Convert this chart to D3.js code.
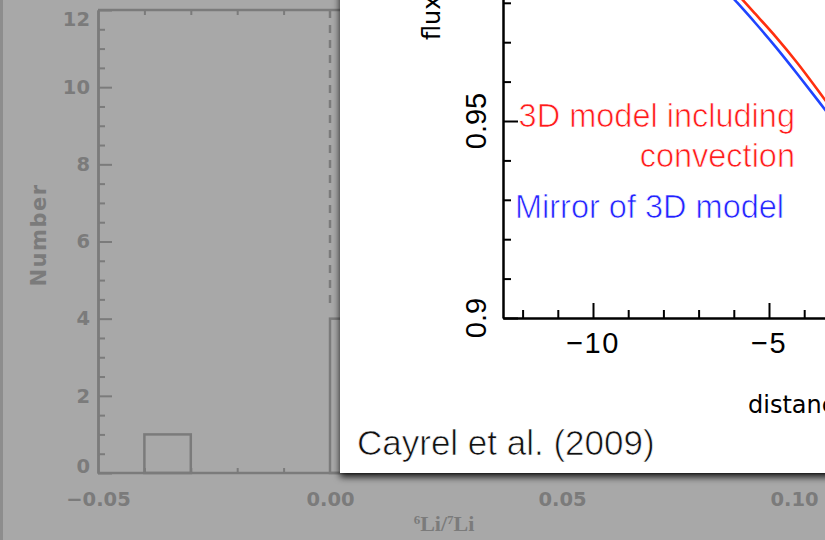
<!DOCTYPE html>
<html>
<head>
<meta charset="utf-8">
<script src="https://cdn.jsdelivr.net/npm/d3@7"></script>
<style>
  html, body { margin: 0; padding: 0; background: #a8a8a8; overflow: hidden; }
  svg { display: block; }
</style>
</head>
<body>
<svg id="chart" width="825" height="540"></svg>
<script>
// ---- Histogram of the 6Li/7Li ratio (dimmed background figure) ----
const binStarts = [-0.04, 0.00];
const binCounts = [1, 4];
const binWidth = 0.01;
const histXTicks = [-0.05, 0.00, 0.05, 0.10];
const histXLabels = ["\u22120.05", "0.00", "0.05", "0.10"];
const histYTicks = [0, 2, 4, 6, 8, 10, 12];

// ---- Line profile inset: flux versus distance ----
const distance   = [-6.6, -6.0, -5.4, -4.8, -4.2, -3.6, -3.0];
const flux3D     = [0.9889, 0.9832, 0.9773, 0.9713, 0.9648, 0.9577, 0.9503];
const fluxMirror = [0.9869, 0.9810, 0.9750, 0.9687, 0.9620, 0.9551, 0.9481];
const profXTicks = [-10, -5];
const profXLabels = ["\u221210", "\u22125"];
const profYTicks = [0.9, 0.95, 1.0];
const profYLabelTicks = [0.9, 0.95];
const profYLabels = ["0.9", "0.95"];

const W = 825, H = 540;
const svg = d3.select("#chart");
const defs = svg.append("defs");

svg.append("rect").attr("width", W).attr("height", H).attr("fill", "#a8a8a8");
svg.append("rect").attr("x", 0).attr("width", 3).attr("height", H).attr("fill", "#8d8d8d");

// ================= histogram =================
const gray = "#7b7b7b";
const hx = d3.scaleLinear().domain([-0.05, 0.10]).range([98, 794]);
const hy = d3.scaleLinear().domain([0, 12]).range([473, 10]);
const hg = svg.append("g");

// bars
hg.selectAll("rect.bar").data(binStarts).join("rect")
  .attr("class", "bar")
  .attr("x", d => hx(d))
  .attr("y", (d, i) => hy(binCounts[i]))
  .attr("width", d => hx(d + binWidth) - hx(d))
  .attr("height", (d, i) => hy(0) - hy(binCounts[i]))
  .attr("fill", "none").attr("stroke", gray).attr("stroke-width", 2.5);

// dashed reference line at zero
hg.append("line")
  .attr("x1", hx(0)).attr("x2", hx(0))
  .attr("y1", hy(12)).attr("y2", hy(binCounts[1]) - 12)
  .attr("stroke", gray).attr("stroke-width", 2.5).attr("stroke-dasharray", "8,7");

const histFont = g => g.selectAll("text")
  .attr("font-family", "DejaVu Sans").attr("font-weight", "bold")
  .attr("font-size", 19.5).attr("fill", gray);
const styleAxis = (g, color, w) => {
  g.select(".domain").attr("stroke", color).attr("stroke-width", w);
  g.selectAll(".tick line").attr("stroke", color).attr("stroke-width", 2);
};

const minorX = d3.range(-5, 16).map(i => i / 100).filter(v => Math.abs(v * 20 - Math.round(v * 20)) > 1e-6);
const minorY = d3.range(0, 25).map(i => i / 2).filter(v => v % 2 !== 0);

// left axis with inward ticks
const hyAxis = hg.append("g").attr("transform", `translate(${hx(-0.05)},0)`)
  .call(d3.axisLeft(hy).tickValues(histYTicks).tickSize(-14).tickSizeOuter(0).tickPadding(8));
styleAxis(hyAxis, gray, 2.5);
histFont(hyAxis);
hyAxis.selectAll(".tick text")
  .attr("y", v => Math.min(Math.max(hy(v), hy(12) + 9), hy(0) - 7) - hy(v));
hg.append("g").attr("transform", `translate(${hx(-0.05)},0)`)
  .call(d3.axisLeft(hy).tickValues(minorY).tickSize(-7).tickSizeOuter(0).tickFormat(""))
  .call(g => styleAxis(g, gray, 2.5));

// bottom axis
const hxAxis = hg.append("g").attr("transform", `translate(0,${hy(0)})`)
  .call(d3.axisBottom(hx).tickValues(histXTicks).tickSize(0).tickSizeOuter(0)
        .tickFormat((d, i) => histXLabels[i]));
hxAxis.select(".domain").remove();
histFont(hxAxis);
hxAxis.selectAll(".tick text").attr("y", 33).attr("dy", 0);
hg.append("line").attr("x1", hx(-0.05)).attr("x2", W).attr("y1", hy(0)).attr("y2", hy(0))
  .attr("stroke", gray).attr("stroke-width", 2.5);
hg.append("g").attr("transform", `translate(0,${hy(0)})`)
  .call(d3.axisBottom(hx).tickValues(minorX).tickSize(-5).tickFormat(""))
  .call(g => { g.select(".domain").remove(); styleAxis(g, gray, 2.5); });

// top frame
hg.append("line").attr("x1", hx(-0.05)).attr("x2", W).attr("y1", hy(12)).attr("y2", hy(12))
  .attr("stroke", gray).attr("stroke-width", 2.5);
hg.append("g").attr("transform", `translate(0,${hy(12)})`)
  .call(d3.axisTop(hx).tickValues(minorX).tickSize(-5).tickFormat(""))
  .call(g => { g.select(".domain").remove(); styleAxis(g, gray, 2.5); });

// axis titles
hg.append("text")
  .attr("transform", "translate(46,235) rotate(-90)")
  .attr("text-anchor", "middle")
  .attr("font-family", "DejaVu Sans").attr("font-weight", "bold")
  .attr("font-size", 21).attr("letter-spacing", 1.5).attr("fill", gray)
  .text("Number");

const xt = hg.append("text")
  .attr("x", 444).attr("y", 531).attr("text-anchor", "middle")
  .attr("font-family", "Liberation Serif").attr("font-weight", "bold")
  .attr("font-size", 22).attr("fill", gray);
xt.append("tspan").attr("font-size", 13).attr("dy", -7).text("6");
xt.append("tspan").attr("dy", 7).text("Li/");
xt.append("tspan").attr("font-size", 13).attr("dy", -7).text("7");
xt.append("tspan").attr("dy", 7).text("Li");

// ================= inset panel =================
const sh = defs.append("filter").attr("id", "shadow")
  .attr("x", "-10%").attr("y", "-10%").attr("width", "120%").attr("height", "125%");
sh.append("feDropShadow").attr("dx", 0).attr("dy", 4).attr("stdDeviation", 3.5)
  .attr("flood-color", "#000").attr("flood-opacity", 0.85);

svg.append("rect").attr("x", 340).attr("y", -40).attr("width", 540).attr("height", 513)
  .attr("fill", "#fff").attr("filter", "url(#shadow)");

const pg = svg.append("g");
// anchor the scales on the labelled ticks, then widen them to the full axis extent
const px0 = d3.scaleLinear().domain([-10, -5]).range([593, 769]);
const px = d3.scaleLinear().domain([px0.invert(503), px0.invert(900)]).range([503, 900]);
const py0 = d3.scaleLinear().domain([0.9, 0.95]).range([318, 121]);
const py = d3.scaleLinear().domain([0.9, 1.0]).range([318, py0(1.0)]);

const profMinorX = d3.range(-12, 1).filter(v => v % 5 !== 0);
const profMinorY = d3.range(91, 100).map(v => v / 100).filter(v => Math.abs(v - 0.95) > 1e-6);

// curves
const series = [
  { values: fluxMirror, color: "#1f44ff" },
  { values: flux3D, color: "#ff2f0f" }
];
const line = d3.line().x(d => px(d[0])).y(d => py(d[1])).curve(d3.curveMonotoneX);
pg.selectAll("path.profile").data(series).join("path")
  .attr("class", "profile")
  .attr("d", s => line(distance.map((d, i) => [d, s.values[i]])))
  .attr("fill", "none").attr("stroke", s => s.color).attr("stroke-width", 2.6);

// y axis
const pyAxis = pg.append("g").attr("transform", `translate(${px.range()[0]},0)`)
  .call(d3.axisLeft(py).tickValues(profYTicks).tickSize(-15).tickSizeOuter(0).tickFormat(""));
styleAxis(pyAxis, "#000", 2.5);
pg.append("g").attr("transform", `translate(${px.range()[0]},0)`)
  .call(d3.axisLeft(py).tickValues(profMinorY).tickSize(-8).tickSizeOuter(0).tickFormat(""))
  .call(g => { g.select(".domain").remove(); styleAxis(g, "#000", 2.5); });
pg.selectAll("text.ylab").data(profYLabelTicks).join("text")
  .attr("class", "ylab")
  .attr("transform", d => `translate(486,${py(d)}) rotate(-90)`)
  .attr("text-anchor", "middle")
  .attr("font-family", "Liberation Sans").attr("font-size", 29).attr("fill", "#000")
  .text((d, i) => profYLabels[i]);

// x axis
const pxAxis = pg.append("g").attr("transform", `translate(0,${py(0.9)})`)
  .call(d3.axisBottom(px).tickValues(profXTicks).tickSize(-15).tickSizeOuter(0).tickFormat(""));
styleAxis(pxAxis, "#000", 2.5);
pg.append("g").attr("transform", `translate(0,${py(0.9)})`)
  .call(d3.axisBottom(px).tickValues(profMinorX).tickSize(-8).tickSizeOuter(0).tickFormat(""))
  .call(g => { g.select(".domain").remove(); styleAxis(g, "#000", 2.5); });
pg.selectAll("text.xlab").data(profXTicks).join("text")
  .attr("class", "xlab")
  .attr("x", d => px(d)).attr("y", 353)
  .attr("text-anchor", "middle").attr("letter-spacing", 1.5)
  .attr("font-family", "Liberation Sans").attr("font-size", 29).attr("fill", "#000")
  .text((d, i) => profXLabels[i]);

// axis titles
pg.append("text")
  .attr("transform", "translate(440,40) rotate(-90)")
  .attr("font-family", "DejaVu Sans").attr("font-size", 24).attr("fill", "#000")
  .text("flux");
pg.append("text")
  .attr("x", 748).attr("y", 413)
  .attr("font-family", "DejaVu Sans").attr("font-size", 24).attr("fill", "#000")
  .text("distance");

// legend
const legendFont = t => t.attr("font-family", "Liberation Sans").attr("font-size", 32.5)
  .attr("stroke", "#fff").attr("stroke-width", 0.7);
pg.append("text").attr("x", 795).attr("y", 127).attr("text-anchor", "end")
  .attr("fill", "#ff1a1a").call(legendFont).text("3D model including");
pg.append("text").attr("x", 795).attr("y", 167).attr("text-anchor", "end")
  .attr("fill", "#ff1a1a").call(legendFont).text("convection");
pg.append("text").attr("x", 515).attr("y", 218)
  .attr("fill", "#2222ff").call(legendFont).text("Mirror of 3D model");

// source credit
pg.append("text").attr("x", 357).attr("y", 455)
  .attr("font-family", "Liberation Sans").attr("font-size", 35)
  .attr("fill", "#111").attr("stroke", "#fff").attr("stroke-width", 0.7)
  .text("Cayrel et al. (2009)");
</script>
</body>
</html>
